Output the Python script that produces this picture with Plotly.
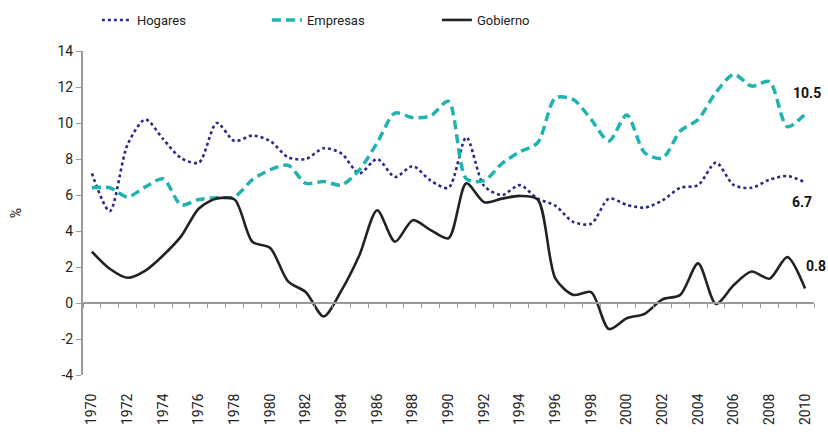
import plotly.graph_objects as go

years = list(range(1970, 2011))

hogares = [7.2, 5.1, 8.8, 10.2, 9.1, 8.05, 7.8, 10.0, 9.0, 9.3, 9.0, 8.1, 8.0, 8.6, 8.3, 7.2,
           8.0, 7.0, 7.6, 6.8, 6.4, 9.2, 6.5, 6.0, 6.55, 5.8, 5.4, 4.5, 4.4, 5.8, 5.45, 5.3,
           5.7, 6.4, 6.55, 7.8, 6.55, 6.4, 6.85, 7.05, 6.7]

empresas = [6.4, 6.4, 5.9, 6.45, 6.9, 5.45, 5.75, 5.85, 5.9, 6.85, 7.4, 7.65, 6.65, 6.75, 6.55, 7.4,
            8.9, 10.55, 10.3, 10.4, 11.2, 6.9, 6.8, 7.75, 8.4, 8.9, 11.4, 11.3, 10.2, 9.0, 10.45,
            8.35, 8.05, 9.55, 10.2, 11.7, 12.7, 12.05, 12.3, 9.8, 10.5]

gobierno = [2.85, 1.9, 1.4, 1.8, 2.65, 3.7, 5.25, 5.8, 5.75, 3.4, 3.05, 1.2, 0.6, -0.75, 0.7, 2.65,
            5.15, 3.4, 4.6, 4.05, 3.6, 6.65, 5.6, 5.8, 5.95, 5.75, 1.35, 0.45, 0.6, -1.45, -0.85,
            -0.6, 0.2, 0.45, 2.2, -0.05, 1.0, 1.75, 1.35, 2.55, 0.8]

series_names = ["Hogares", "Empresas", "Gobierno"]
series_colors = ["#2b2a86", "#22b3b1", "#222222"]
end_labels = ["6.7", "10.5", "0.8"]

y_ticks = list(range(-4, 15, 2))
y_ticktext = [str(v) for v in y_ticks]
x_ticks = list(range(1970, 2011, 2))

FONT = "Roboto"

fig = go.Figure()
fig.add_trace(go.Scatter(x=years, y=hogares, name=series_names[0], mode="lines",
                         line=dict(color=series_colors[0], width=2.6, dash="dot",
                                   shape="spline", smoothing=0.8)))
fig.add_trace(go.Scatter(x=years, y=empresas, name=series_names[1], mode="lines",
                         line=dict(color=series_colors[1], width=3.5, dash="9px,5px",
                                   shape="spline", smoothing=0.8)))
fig.add_trace(go.Scatter(x=years, y=gobierno, name=series_names[2], mode="lines",
                         line=dict(color=series_colors[2], width=2.6,
                                   shape="spline", smoothing=0.8)))

xr = [1969.5, 2010.5]
fig.update_layout(
    width=828, height=438,
    margin=dict(l=83, r=14, t=51, b=63, autoexpand=False),
    paper_bgcolor="white", plot_bgcolor="white",
    font=dict(family=FONT, size=13, color="#222"),
    showlegend=True,
    legend=dict(orientation="h", x=0.019, xanchor="left", y=1.142, yanchor="top",
                entrywidth=125, entrywidthmode="pixels",
                font=dict(family=FONT, size=13, color="#222")),
    xaxis=dict(range=xr, tickmode="array", tickvals=x_ticks,
               ticktext=[str(v) for v in x_ticks], tickangle=-90,
               showgrid=False, zeroline=False, showline=False, automargin=False,
               ticks="outside", ticklen=12, tickcolor="rgba(0,0,0,0)",
               tickfont=dict(family=FONT, size=14, color="#222")),
    xaxis2=dict(range=xr, overlaying="x", anchor="free", position=4 / 18,
                showline=True, linecolor="#999", linewidth=2, automargin=False,
                ticks="outside", ticklen=4, tickcolor="#999", tickwidth=1,
                tick0=1969.5, dtick=1, showticklabels=False,
                showgrid=False, zeroline=False),
    yaxis=dict(range=[-4, 14], tickmode="array", tickvals=y_ticks, ticktext=y_ticktext,
               showgrid=False, zeroline=False,
               showline=True, linecolor="#999", linewidth=2, automargin=False,
               ticks="outside", ticklen=5, tickcolor="#999",
               tickfont=dict(family=FONT, size=14, color="#222"),
               title=dict(text="%", standoff=33, font=dict(family=FONT, size=14, color="#222"))),
)

# invisible trace to keep xaxis2 alive
fig.add_trace(go.Scatter(x=[years[0]], y=[0], xaxis="x2", mode="markers",
                         marker=dict(opacity=0), showlegend=False, hoverinfo="skip"))

last_vals = [hogares[-1], empresas[-1], gobierno[-1]]
shifts = [(-3, -20), (2, 21), (11, 23)]
for txt, v, (dx, dy) in zip(end_labels, last_vals, shifts):
    fig.add_annotation(x=years[-1], y=v, text=f"<b>{txt}</b>", showarrow=False,
                       xanchor="center", xshift=dx, yshift=dy,
                       font=dict(family=FONT, size=14, color="#111"))

fig.write_html("out.html", config={"displayModeBar": False},
               post_script="document.body.style.margin='0';")
